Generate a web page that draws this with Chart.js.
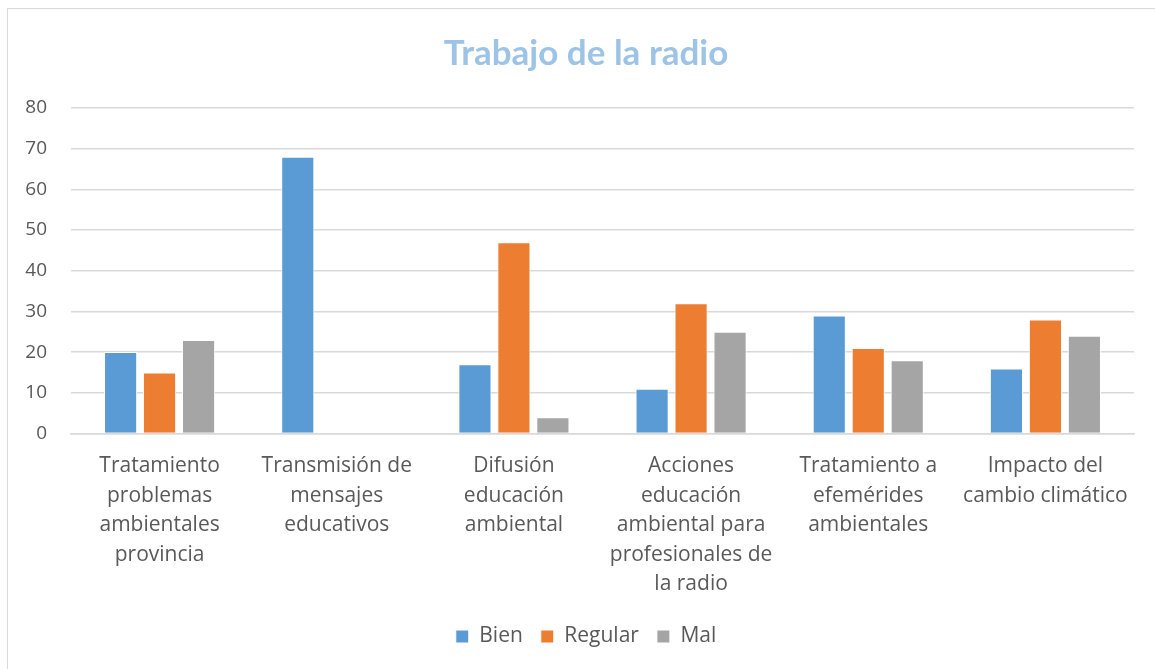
<!DOCTYPE html>
<html><head><meta charset="utf-8">
<script src="https://cdn.jsdelivr.net/npm/chart.js@4/dist/chart.umd.min.js"></script>
<style>
html,body{margin:0;padding:0;background:#fff;}
#wrap{position:relative;width:1155px;height:669px;}
#frame{position:absolute;left:7px;top:8px;width:1160px;height:680px;border:1px solid #d9d9d9;box-sizing:border-box;}
canvas{position:absolute;left:0;top:0;}
</style></head>
<body><div id="wrap"><div id="frame"></div><canvas id="c" width="1155" height="669"></canvas></div>
<script>
const title = "Trabajo de la radio";
const categories = [
  ["Tratamiento","problemas","ambientales","provincia"],
  ["Transmisión de","mensajes","educativos"],
  ["Difusión","educación","ambiental"],
  ["Acciones","educación","ambiental para","profesionales de","la radio"],
  ["Tratamiento a","efemérides","ambientales"],
  ["Impacto del","cambio climático"]
];
const seriesNames = ["Bien","Regular","Mal"];
const bien = [20,68,17,11,29,16];
const regular = [15,0,47,32,21,28];
const mal = [23,0,4,25,18,24];
const yTicks = [0,10,20,30,40,50,60,70,80];
const colors = ["#5B9BD5","#ED7D31","#A5A5A5"];
const font = "'Open Sans', sans-serif";
const titleFont = "Lato, sans-serif";

// let the y-axis labels use the space left of the padded area (no clipping)
const widenYAxis = {
  id:'widenYAxis',
  afterLayout(chart){ const y = chart.scales.y; y.left = 0; y.width = y.right; }
};

new Chart(document.getElementById('c'), {
  type:'bar',
  data:{
    labels:categories,
    datasets:[bien,regular,mal].map((d,i)=>({
      label:seriesNames[i], data:d, backgroundColor:colors[i],
      borderColor:'#ffffff', borderWidth:1,
      categoryPercentage:0.66, barPercentage:0.85
    }))
  },
  options:{
    responsive:false, animation:false,
    layout:{padding:{left:38,right:21,top:23,bottom:12}},
    plugins:{
      title:{display:true,text:title,color:'#9DC3E6',font:{family:titleFont,size:35,weight:'bold'},padding:{top:10,bottom:33}},
      legend:{position:'bottom',labels:{color:'#595959',font:{family:font,size:21},boxWidth:13,boxHeight:13,padding:18}},
      tooltip:{enabled:false}
    },
    scales:{
      y:{min:0,max:80,afterBuildTicks:s=>{s.ticks=yTicks.map(v=>({value:v}));},
        afterFit:s=>{s.width=33;},
        grid:{color:'#d9d9d9',lineWidth:1.5,drawTicks:false},
        border:{display:false},
        ticks:{color:'#595959',font:{family:font,size:19},padding:24}
      },
      x:{grid:{display:false},border:{color:'#d9d9d9',width:1.5},
        afterFit:s=>{s.height=s.height-1;},
        ticks:{color:'#595959',font:{family:font,size:21,lineHeight:1.405},padding:10,maxRotation:0,autoSkip:false}
      }
    }
  },
  plugins:[widenYAxis]
});
</script></body></html>
